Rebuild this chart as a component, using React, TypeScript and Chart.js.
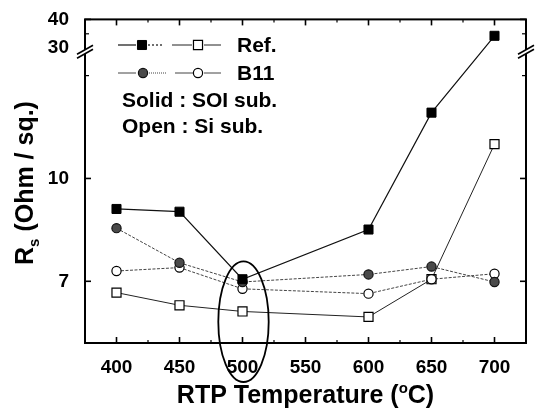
import React, { useEffect, useRef } from 'react';
import { Chart, registerables } from 'chart.js';

Chart.register(...registerables);

// ---- data ----
const temperatures = [400, 450, 500, 600, 650, 700];
const refSOI = [9.11, 9.03, 7.06, 8.51, 11.92, 34.3];
const refSi = [6.67, 6.3, 6.12, 5.96, 7.06, 11.0];
const b11SOI = [8.55, 7.54, 6.98, 7.2, 7.43, 6.98];
const b11Si = [7.3, 7.4, 6.78, 6.64, 7.06, 7.22];

const xTickValues = [400, 450, 500, 550, 600, 650, 700];
const xMinorTickValues = [425, 475, 525, 575, 625, 675];
const yTickValues = [7, 10, 30, 40];
const yMinorTickValues = [13, 35];

const xTitleMain = 'RTP Temperature (';
const xTitleSup = 'o';
const xTitleEnd = 'C)';
const yTitleMain = 'R';
const yTitleSub = 's';
const yTitleEnd = ' (Ohm / sq.)';
const legendRef = 'Ref.';
const legendB11 = 'B11';
const noteSolid = 'Solid : SOI sub.';
const noteOpen = 'Open : Si sub.';

// ---- broken y axis mapping ----
const Y_MIN = 5.2;
const BREAK_LOW = 13.8;
const BREAK_HIGH = 30;
const UPPER_SCALE = 0.084;
const Y_MAX = 40;
const toD = (v: number) => (v <= BREAK_LOW ? v : BREAK_LOW + (v - BREAK_HIGH) * UPPER_SCALE);

const FONT = '"Liberation Sans", Arial, Helvetica, sans-serif';

function pts(arr: number[]) {
  return temperatures.map((t, i) => ({ x: t, y: toD(arr[i]) }));
}

function line(ctx: CanvasRenderingContext2D, x1: number, y1: number, x2: number, y2: number) {
  ctx.beginPath();
  ctx.moveTo(x1, y1);
  ctx.lineTo(x2, y2);
  ctx.stroke();
}

function drawMarker(ctx: CanvasRenderingContext2D, ds: any, x: number, y: number) {
  ctx.save();
  ctx.fillStyle = ds.pointBackgroundColor;
  ctx.strokeStyle = ds.pointBorderColor;
  ctx.lineWidth = ds.pointBorderWidth;
  ctx.setLineDash([]);
  ctx.beginPath();
  if (ds.pointStyle === 'rect') {
    const s = Math.SQRT1_2 * ds.pointRadius;
    ctx.rect(x - s, y - s, 2 * s, 2 * s);
  } else {
    ctx.arc(x, y, ds.pointRadius, 0, Math.PI * 2);
  }
  ctx.fill();
  ctx.stroke();
  ctx.restore();
}

function seg(ctx: CanvasRenderingContext2D, ds: any, x1: number, x2: number, y: number, dash: number[]) {
  ctx.save();
  ctx.strokeStyle = ds.borderColor;
  ctx.lineWidth = ds.borderWidth;
  ctx.setLineDash(dash);
  line(ctx, x1, y, x2, y);
  ctx.restore();
}

const decorPlugin = {
  id: 'decor',
  afterDraw(chart: any) {
    const { ctx, chartArea: a, scales } = chart;
    const xs = scales.x;
    const ys = scales.y;
    const dss = chart.data.datasets;
    ctx.save();
    ctx.strokeStyle = '#000';
    ctx.fillStyle = '#000';

    // frame
    ctx.lineWidth = 2;
    ctx.strokeRect(a.left, a.top, a.right - a.left, a.bottom - a.top);

    // x ticks (inward, bottom & top)
    ctx.lineWidth = 1.6;
    for (const v of xTickValues) {
      const px = xs.getPixelForValue(v);
      line(ctx, px, a.bottom, px, a.bottom - 6);
      line(ctx, px, a.top, px, a.top + 6);
    }
    ctx.lineWidth = 1.2;
    for (const v of xMinorTickValues) {
      const px = xs.getPixelForValue(v);
      line(ctx, px, a.bottom, px, a.bottom - 3);
      line(ctx, px, a.top, px, a.top + 3);
    }
    // y ticks (inward, left & right)
    ctx.lineWidth = 1.6;
    for (const v of yTickValues) {
      if (v === BREAK_HIGH) continue;
      const py = ys.getPixelForValue(toD(v));
      line(ctx, a.left, py, a.left + 6, py);
      line(ctx, a.right, py, a.right - 6, py);
    }
    ctx.lineWidth = 1.2;
    for (const v of yMinorTickValues) {
      const py = ys.getPixelForValue(toD(v));
      line(ctx, a.left, py, a.left + 4, py);
      line(ctx, a.right, py, a.right - 4, py);
    }

    // axis breaks
    const by = ys.getPixelForValue(toD(BREAK_HIGH)) + 2;
    for (const bx of [a.left, a.right]) {
      ctx.save();
      ctx.fillStyle = '#fff';
      ctx.beginPath();
      ctx.moveTo(bx - 7, by + 3.5);
      ctx.lineTo(bx + 7, by - 4.5);
      ctx.lineTo(bx + 7, by - 0.5);
      ctx.lineTo(bx - 7, by + 7.5);
      ctx.closePath();
      ctx.fill();
      ctx.restore();
      ctx.lineWidth = 1.6;
      line(ctx, bx - 8, by + 4, bx + 8, by - 5);
      line(ctx, bx - 8, by + 8, bx + 8, by - 1);
    }

    // legend
    const [dRefSOI, dB11SOI, dB11Si, dRefSi] = dss;
    const r1 = 45;
    const r2 = 73;
    seg(ctx, dRefSOI, 118, 136, r1, []);
    drawMarker(ctx, dRefSOI, 142, r1);
    seg(ctx, dRefSOI, 148, 163, r1, [2, 2]);
    seg(ctx, dRefSi, 172, 192, r1, []);
    drawMarker(ctx, dRefSi, 198, r1);
    seg(ctx, dRefSi, 204, 221, r1, []);

    seg(ctx, dB11SOI, 118, 136, r2, []);
    drawMarker(ctx, dB11SOI, 143, r2);
    seg(ctx, dB11SOI, 149, 167, r2, [1, 1]);
    seg(ctx, dB11Si, 175, 193, r2, []);
    drawMarker(ctx, dB11Si, 198, r2);
    seg(ctx, dB11Si, 204, 221, r2, []);

    ctx.fillStyle = '#000';
    ctx.font = `bold 21px ${FONT}`;
    ctx.textBaseline = 'middle';
    ctx.textAlign = 'left';
    ctx.fillText(legendRef, 237, r1 + 1);
    ctx.fillText(legendB11, 237, r2 + 1);
    ctx.fillText(noteSolid, 122, 101);
    ctx.fillText(noteOpen, 122, 127);

    // x title
    ctx.textBaseline = 'alphabetic';
    const big = `bold 25px ${FONT}`;
    const small = `bold 15px ${FONT}`;
    ctx.font = big;
    const w1 = ctx.measureText(xTitleMain).width;
    const w3 = ctx.measureText(xTitleEnd).width;
    ctx.font = small;
    const w2 = ctx.measureText(xTitleSup).width;
    let x0 = (a.left + a.right) / 2 - (w1 + w2 + w3) / 2;
    const base = 403;
    ctx.font = big;
    ctx.fillText(xTitleMain, x0, base);
    x0 += w1;
    ctx.font = small;
    ctx.fillText(xTitleSup, x0, base - 10);
    x0 += w2;
    ctx.font = big;
    ctx.fillText(xTitleEnd, x0, base);

    // y title
    ctx.save();
    ctx.translate(33, 183);
    ctx.rotate(-Math.PI / 2);
    ctx.font = big;
    const v1 = ctx.measureText(yTitleMain).width;
    const v3 = ctx.measureText(yTitleEnd).width;
    ctx.font = small;
    const v2 = ctx.measureText(yTitleSub).width;
    let y0 = -(v1 + v2 + v3) / 2;
    ctx.font = big;
    ctx.fillText(yTitleMain, y0, 0);
    y0 += v1;
    ctx.font = small;
    ctx.fillText(yTitleSub, y0, 6);
    y0 += v2;
    ctx.font = big;
    ctx.fillText(yTitleEnd, y0, 0);
    ctx.restore();

    // ellipse around 500 °C
    const cx = xs.getPixelForValue(500) + 1;
    const rx = xs.getPixelForValue(520) - xs.getPixelForValue(500);
    const top = ys.getPixelForValue(toD(7.58));
    const bottom = a.bottom + 39;
    ctx.lineWidth = 1.8;
    ctx.strokeStyle = '#000';
    ctx.beginPath();
    ctx.ellipse(cx, (top + bottom) / 2, rx, (bottom - top) / 2, 0, 0, Math.PI * 2);
    ctx.stroke();

    ctx.restore();
  },
};

export default function App() {
  const ref = useRef<HTMLCanvasElement | null>(null);
  useEffect(() => {
    if (!ref.current) return;
    const tickFont = { family: FONT, size: 19, weight: 'bold' as const };
    const chart = new Chart(ref.current, {
      type: 'line',
      data: {
        datasets: [
          {
            label: 'Ref. SOI',
            data: pts(refSOI),
            borderColor: '#111',
            borderWidth: 1.2,
            pointStyle: 'rect',
            pointRadius: 6.4,
            pointBackgroundColor: '#000',
            pointBorderColor: '#000',
            pointBorderWidth: 1,
          },
          {
            label: 'B11 SOI',
            data: pts(b11SOI),
            borderColor: '#444',
            borderWidth: 1,
            borderDash: [3, 1.5],
            pointStyle: 'circle',
            pointRadius: 4.6,
            pointBackgroundColor: '#4a4a4a',
            pointBorderColor: '#111',
            pointBorderWidth: 1.2,
          },
          {
            label: 'B11 Si',
            data: pts(b11Si),
            borderColor: '#444',
            borderWidth: 1,
            borderDash: [3, 1.5],
            pointStyle: 'circle',
            pointRadius: 4.6,
            pointBackgroundColor: '#fff',
            pointBorderColor: '#000',
            pointBorderWidth: 1.2,
          },
          {
            label: 'Ref. Si',
            data: pts(refSi),
            borderColor: '#222',
            borderWidth: 1,
            pointStyle: 'rect',
            pointRadius: 6.4,
            pointBackgroundColor: '#fff',
            pointBorderColor: '#000',
            pointBorderWidth: 1.2,
          },
        ] as any,
      },
      options: {
        responsive: false,
        animation: false,
        layout: { padding: { left: 0, right: 12, top: 18, bottom: 0 } },
        elements: { line: { tension: 0 } },
        plugins: { legend: { display: false }, tooltip: { enabled: false } },
        scales: {
          x: {
            type: 'linear',
            min: 375,
            max: 725,
            grid: { display: false },
            border: { display: false },
            afterBuildTicks: (s: any) => {
              s.ticks = xTickValues.map((v) => ({ value: v }));
            },
            afterFit: (s: any) => {
              s.height = 67;
            },
            ticks: { font: tickFont, color: '#000', padding: 5, maxRotation: 0, autoSkip: false },
          },
          y: {
            type: 'linear',
            min: Y_MIN,
            max: toD(Y_MAX),
            grid: { display: false },
            border: { display: false },
            afterBuildTicks: (s: any) => {
              s.ticks = yTickValues.map((v) => ({ value: toD(v) }));
            },
            afterFit: (s: any) => {
              s.width = 85;
            },
            ticks: {
              font: tickFont,
              color: '#000',
              padding: 8,
              autoSkip: false,
              callback: (value: any) => {
                const i = yTickValues.findIndex((v) => Math.abs(toD(v) - Number(value)) < 1e-6);
                return i >= 0 ? String(yTickValues[i]) : '';
              },
            },
          },
        },
      } as any,
      plugins: [decorPlugin],
    });
    return () => chart.destroy();
  }, []);
  return (
    <div style={{ position: 'absolute', left: 0, top: 0, width: 538, height: 410, background: '#fff' }}>
      <canvas ref={ref} width={538} height={410} />
    </div>
  );
}
